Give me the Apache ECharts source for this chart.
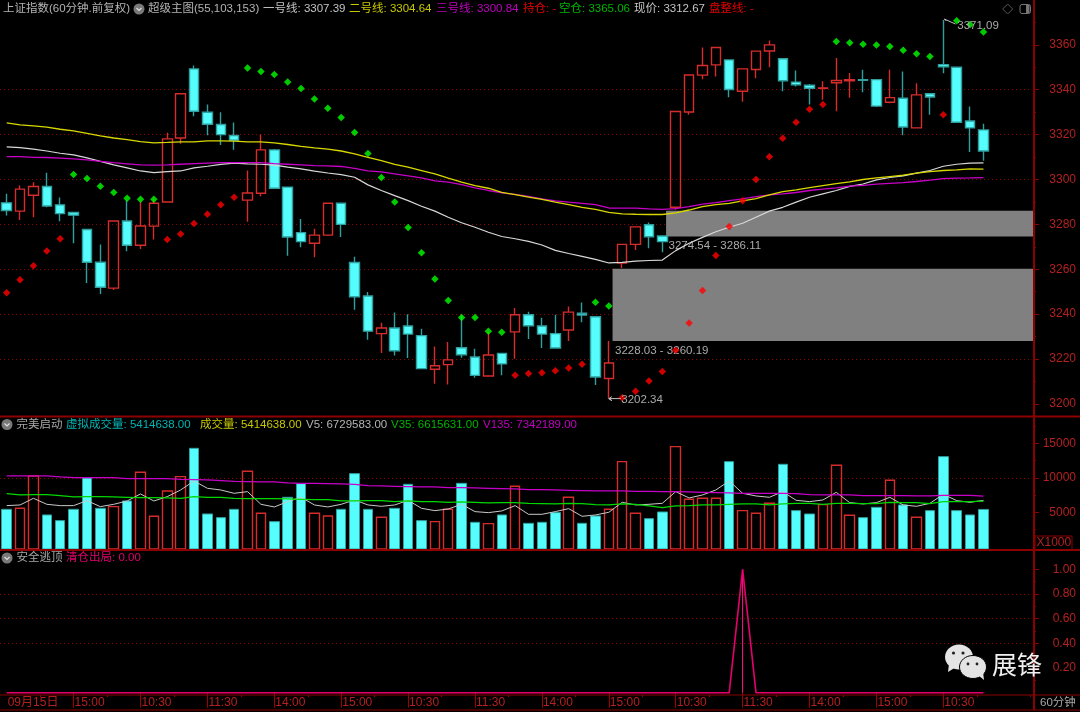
<!DOCTYPE html>
<html>
<head>
<meta charset="utf-8">
<style>
  html, body { margin: 0; padding: 0; background: #000; }
  #chart { width: 1080px; height: 712px; }
</style>
<script src="https://cdn.jsdelivr.net/npm/echarts@6/dist/echarts.min.js"></script>
</head>
<body>
<div id="chart"></div>
<script>
// tick labels, one every 5 bars
const timeTicks = ['09月15日', '15:00', '10:30', '11:30', '14:00', '15:00', '10:30', '11:30', '14:00', '15:00', '10:30', '11:30', '14:00', '15:00', '10:30']
const priceTicks = [3200, 3220, 3240, 3260, 3280, 3300, 3320, 3340, 3360]
const volumeTicks = [5000, 10000, 15000]
const exitTicks = [0.2, 0.4, 0.6, 0.8, 1]

// candles
const opens = [3289.6, 3285.9, 3293, 3296.9, 3288.7, 3285.3, 3277.7, 3263.1, 3251.6, 3281.5, 3270.7, 3279.2, 3290, 3318.5, 3349.3, 3330, 3324.5, 3319.6, 3290.8, 3293.9, 3313.2, 3296.6, 3276.3, 3271.6, 3275.2, 3289.4, 3263, 3248.1, 3231.3, 3233.8, 3234.7, 3230.4, 3215.4, 3217.5, 3225, 3220.9, 3212.4, 3222.5, 3232.1, 3239.7, 3234.7, 3231.3, 3232.9, 3240.4, 3238.8, 3211.3, 3262.8, 3271.1, 3279.8, 3274.8, 3287.6, 3330.1, 3346.5, 3351.1, 3353.3, 3339.3, 3349, 3357.3, 3353.8, 3343.4, 3342, 3340.6, 3343.1, 3344, 3344.5, 3344.5, 3334.4, 3336.2, 3323, 3338.2, 3351.2, 3350, 3326.1, 3322.1]
const closes = [3286.2, 3295.7, 3296.9, 3288.2, 3284.8, 3284.1, 3263.1, 3252, 3281.5, 3270.7, 3279.3, 3289.4, 3318.1, 3338.2, 3330.4, 3324.6, 3320, 3317.5, 3294, 3313.2, 3296.1, 3274.4, 3272.3, 3275.2, 3289.4, 3280, 3247.7, 3232.4, 3233.8, 3223.7, 3231.1, 3215.7, 3217, 3219.6, 3221.9, 3212.7, 3221.8, 3217.8, 3239.7, 3234.8, 3231.1, 3224.9, 3240.9, 3239.6, 3212, 3218.2, 3271.1, 3278.9, 3274.5, 3272.3, 3330.3, 3346.6, 3350.8, 3358.8, 3340.1, 3349.3, 3357.2, 3360, 3344, 3342.2, 3340.7, 3340.8, 3344.1, 3344.5, 3344.2, 3332.7, 3336.5, 3323.4, 3337.7, 3336.8, 3350.2, 3325.5, 3323, 3312.67]
const lows = [3284, 3282, 3283.2, 3287.6, 3281.4, 3271.6, 3253.9, 3249, 3250.8, 3268, 3269, 3273.2, 3290, 3315.9, 3328.2, 3319.7, 3315.4, 3313.3, 3281.2, 3292.5, 3296.1, 3266, 3269.8, 3265.3, 3275.2, 3274.4, 3241.9, 3228.6, 3222.7, 3221.5, 3220.4, 3215.7, 3209, 3208.6, 3220.6, 3211.6, 3212.4, 3212.7, 3220.1, 3228.9, 3224.9, 3224.9, 3228, 3236.4, 3208.4, 3202.34, 3260.6, 3268.6, 3269.3, 3267.6, 3286.5, 3328.8, 3344.7, 3345.9, 3336.7, 3334.7, 3345.1, 3350, 3339.3, 3341.4, 3333.4, 3335.5, 3330.4, 3336.4, 3338.9, 3332.3, 3334, 3319.7, 3323, 3328.8, 3347.4, 3325.5, 3312.2, 3308.3]
const highs = [3293.6, 3297.3, 3298.8, 3303, 3292, 3285.3, 3277.7, 3271, 3281.5, 3291, 3290.2, 3291.4, 3320.8, 3338.2, 3350.8, 3333.4, 3330, 3325.4, 3304, 3320, 3313.6, 3296.9, 3282.4, 3278.1, 3289.4, 3289.8, 3265.6, 3249.8, 3236.1, 3240.7, 3239.9, 3233.5, 3225.6, 3227.6, 3239.4, 3224.6, 3232, 3222.5, 3242.7, 3241, 3238.4, 3239.7, 3243.4, 3245.2, 3239, 3228, 3271.1, 3278.9, 3280.8, 3274.9, 3330.3, 3346.6, 3358.8, 3358.8, 3353.3, 3349.3, 3357.2, 3361.9, 3353.8, 3348.6, 3342.6, 3343.8, 3354.2, 3347.5, 3348.9, 3344.5, 3348.9, 3348.1, 3342.9, 3338.2, 3371.09, 3350, 3332.5, 3324.9]

// moving lines on the price panel
const line1 = [3314.5, 3314.2, 3313.5, 3312.7, 3311.7, 3311, 3309.6, 3308.1, 3306.5, 3305.2, 3303.8, 3303.1, 3303.5, 3303.8, 3305.2, 3305.9, 3306.7, 3307.3, 3307, 3306.8, 3306.4, 3305.5, 3304.7, 3303.7, 3302.9, 3302.2, 3301, 3297.6, 3295.1, 3292.8, 3290.6, 3288.1, 3285.9, 3283.2, 3280.7, 3278.7, 3276.5, 3274.6, 3273.6, 3272.4, 3270.8, 3268.4, 3267, 3265.7, 3264.4, 3262.8, 3263.1, 3263.6, 3263.9, 3264.1, 3268.3, 3271.6, 3274.2, 3276.7, 3278.7, 3280.5, 3283.2, 3285.9, 3287.6, 3289.9, 3292.1, 3293.6, 3295.1, 3296.9, 3298, 3299.8, 3300.9, 3301.6, 3302.8, 3304, 3305.9, 3306.8, 3307.3, 3307.39]
const line2 = [3325.2, 3324.3, 3323.9, 3323.3, 3322.4, 3321.7, 3320.6, 3319.4, 3318.5, 3317.8, 3316.9, 3316.3, 3316.5, 3316.8, 3316.8, 3317.2, 3317.2, 3317.1, 3316.8, 3316.8, 3316.3, 3315.6, 3314.8, 3314.1, 3313.5, 3312.7, 3311.4, 3309.9, 3308.4, 3306.7, 3305.5, 3304, 3302.5, 3300.6, 3298.8, 3297.3, 3296.1, 3294.3, 3293.3, 3292.1, 3291.1, 3289.9, 3288.8, 3287.6, 3286.7, 3285.3, 3284.7, 3284.5, 3284.4, 3284.4, 3285.1, 3286.4, 3287.9, 3288.8, 3289.4, 3290.5, 3291.5, 3293.1, 3294.6, 3295.4, 3296.4, 3297.3, 3298.2, 3298.9, 3300, 3300.7, 3301.3, 3301.9, 3302.8, 3303.5, 3304, 3304.3, 3304.7, 3304.64]
const line3 = [3310.2, 3310.2, 3309.9, 3309.8, 3309.5, 3309.2, 3308.7, 3308.1, 3307.5, 3307, 3306.5, 3306.4, 3306.5, 3306.8, 3307.1, 3307.3, 3307.5, 3307.5, 3307.5, 3307.5, 3307.1, 3306.8, 3306.5, 3306.2, 3306.1, 3305.8, 3305, 3303.8, 3303.4, 3302.5, 3301.6, 3300.7, 3299.4, 3298.8, 3297.7, 3296.3, 3295.1, 3294, 3293.4, 3292.5, 3291.4, 3290.5, 3289.9, 3289.4, 3288.8, 3287.3, 3287.2, 3287.2, 3286.9, 3286.7, 3287, 3287.9, 3289, 3289.7, 3290.6, 3291.4, 3292.4, 3293.1, 3293.6, 3294.2, 3295.1, 3295.7, 3296.3, 3297, 3297.4, 3297.9, 3298.3, 3298.6, 3299.1, 3299.7, 3300.4, 3300.6, 3300.7, 3300.84]

// stop dots as [bar, price]
const holdDots = [[0, 3249.5], [1, 3255.3], [2, 3261.5], [3, 3268.1], [4, 3273.6], [12, 3273.2], [13, 3275.7], [14, 3280.4], [15, 3284.5], [16, 3288.7], [17, 3292.1], [38, 3212.7], [39, 3213.5], [40, 3213.9], [41, 3214.8], [42, 3216], [43, 3217.6], [46, 3202.7], [47, 3205.6], [48, 3210.2], [49, 3214.4], [50, 3223.9], [51, 3236], [52, 3250.5], [53, 3266.1], [54, 3279], [55, 3290.5], [56, 3300], [57, 3310.1], [58, 3318.4], [59, 3325.5], [60, 3331.3], [61, 3333.4], [70, 3328.8]]
const emptyDots = [[5, 3302.2], [6, 3300.4], [7, 3297], [8, 3294.2], [9, 3291.6], [10, 3291.2], [11, 3291.2], [18, 3349.7], [19, 3348.1], [20, 3346.8], [21, 3343.5], [22, 3340.5], [23, 3335.9], [24, 3331.8], [25, 3327.6], [26, 3320.9], [27, 3311.6], [28, 3300.9], [29, 3290], [30, 3278.6], [31, 3267.3], [32, 3255.7], [33, 3246.1], [34, 3238.5], [35, 3238.5], [36, 3232.4], [37, 3231.9], [44, 3245.3], [45, 3243.6], [62, 3361.5], [63, 3361], [64, 3360.3], [65, 3359.9], [66, 3359.3], [67, 3357.6], [68, 3356], [69, 3354.8], [71, 3370.8], [72, 3369.1], [73, 3365.7]]

// grey zones as [first bar, low, high]
const zones = [[45, 3228.03, 3260.19], [49, 3274.54, 3286.11]]

// volume panel, in thousands
const volumes = [5435, 5580, 10265, 4614, 3792, 5435, 9976, 5580, 5821, 6643, 10797, 4420, 8092, 10169, 14275, 4758, 4227, 5435, 10942, 4855, 3647, 7174, 9155, 4855, 4469, 5435, 10604, 5435, 4275, 5580, 9058, 3792, 3647, 5435, 9203, 3551, 3357, 4614, 8768, 3406, 3551, 4952, 7174, 3406, 4469, 5435, 12343, 4855, 4082, 5048, 14517, 6884, 7029, 7029, 12343, 5242, 4855, 6304, 11957, 5242, 4758, 6111, 11812, 4565, 4227, 5725, 9638, 6063, 4275, 5242, 13068, 5242, 4614, 5415]
const v5 = [5966, 6063, 7029, 6159, 5966, 5966, 6691, 5821, 6159, 6642, 7657, 6642, 7270, 8236, 9540, 8478, 8236, 7753, 7995, 6159, 5773, 6546, 7174, 6063, 5773, 6159, 6787, 6063, 5869, 6063, 6739, 5580, 5242, 5483, 6159, 5097, 4952, 5193, 5966, 4710, 4710, 5097, 5531, 4420, 4614, 5000, 6449, 6063, 6159, 6304, 7995, 7077, 7512, 8236, 9540, 7753, 7367, 7174, 7995, 6739, 6546, 6787, 7898, 6401, 6208, 6401, 7174, 6063, 5869, 6304, 7608, 6691, 6449, 6729]
const v35 = [7705, 7512, 7560, 7560, 7415, 7222, 7270, 7270, 7222, 7174, 7125, 7125, 7077, 7029, 7270, 7174, 7174, 7029, 6980, 6980, 6980, 6932, 6884, 6835, 6835, 6642, 6642, 6691, 6691, 6546, 6642, 6546, 6546, 6449, 6497, 6449, 6352, 6401, 6401, 6304, 6256, 6208, 6304, 6256, 6111, 6063, 6208, 6159, 5918, 5676, 5918, 5966, 6063, 6063, 6159, 6208, 6208, 6063, 6208, 6304, 6304, 6159, 6304, 6304, 6256, 6256, 6449, 6401, 6401, 6256, 6546, 6546, 6546, 6615]
const v135 = [10266, 10266, 10266, 10266, 10121, 10024, 10024, 10024, 10024, 9879, 9879, 9879, 9879, 9783, 9734, 9686, 9589, 9493, 9444, 9396, 9396, 9251, 9203, 9203, 9155, 9106, 9058, 8865, 8816, 8768, 8720, 8671, 8671, 8575, 8575, 8527, 8478, 8430, 8382, 8285, 8285, 8237, 8188, 8140, 8092, 8092, 8092, 8043, 8043, 7995, 7995, 7947, 7899, 7850, 7802, 7754, 7754, 7754, 7754, 7705, 7560, 7512, 7512, 7512, 7415, 7415, 7415, 7415, 7367, 7367, 7464, 7464, 7464, 7342]
const volumeFloor = -320

// exit signal panel
const exitSignal = [0, 0, 0, 0, 0, 0, 0, 0, 0, 0, 0, 0, 0, 0, 0, 0, 0, 0, 0, 0, 0, 0, 0, 0, 0, 0, 0, 0, 0, 0, 0, 0, 0, 0, 0, 0, 0, 0, 0, 0, 0, 0, 0, 0, 0, 0, 0, 0, 0, 0, 0, 0, 0, 0, 0, 1, 0, 0, 0, 0, 0, 0, 0, 0, 0, 0, 0, 0, 0, 0, 0, 0, 0, 0]

// header rows: [x, y, text, colour]
const headerTexts = [
  [3, 9, '上证指数(60分钟.前复权)', '#b4b4b4'],
  [148, 9, '超级主图(55,103,153)', '#b4b4b4'],
  [263, 9, '一号线: 3307.39', '#c4c4c4'],
  [349, 9, '二号线: 3304.64', '#c8c800'],
  [436, 9, '三号线: 3300.84', '#c000c0'],
  [523, 9, '持仓: -', '#e00000'],
  [559, 9, '空仓: 3365.06', '#00b400'],
  [634, 9, '现价: 3312.67', '#c4c4c4'],
  [709, 9, '盘整线: -', '#e00000'],
  [16.5, 424.5, '完美启动', '#a8a8a8'],
  [66, 424.5, '虚拟成交量: 5414638.00', '#00b4b4'],
  [200, 424.5, '成交量: 5414638.00', '#c8c800'],
  [306, 424.5, 'V5: 6729583.00', '#b4b4b4'],
  [391, 424.5, 'V35: 6615631.00', '#00b400'],
  [483, 424.5, 'V135: 7342189.00', '#c000c0'],
  [16.5, 558, '安全逃顶', '#a8a8a8'],
  [66, 558, '清仓出局: 0.00', '#e0006e'],
  [1040, 703, '60分钟', '#a8a8a8']
]
const headerCircles = [[139, 9], [7, 424.5], [7, 558]]

const FONT = '"Liberation Sans", "Noto Sans CJK SC", sans-serif'
const RED_AXIS = '#b42020'
const FRAME = '#8c0000'
const barCount = opens.length
// 3 empty slots on the right of the last bar
const categories = []
for (let i = 0; i < barCount + 3; i += 1) {
  categories.push(i % 5 === 0 && timeTicks[i / 5] ? timeTicks[i / 5] : '')
}

const candleData = opens.map((o, i) => [o, closes[i], lows[i], highs[i]])
const volumeUp = volumes.map((v, i) => (closes[i] >= opens[i] ? [volumeFloor, v, volumeFloor, v] : '-'))
const volumeDown = volumes.map((v, i) => (closes[i] < opens[i] ? [volumeFloor, v, volumeFloor, v] : '-'))

function frameLine(x1, y1, x2, y2, width) {
  return {
    type: 'line',
    z: 60,
    shape: { x1, y1, x2, y2 },
    style: { stroke: FRAME, lineWidth: width },
  }
}

function headerGraphics() {
  const out = [
    frameLine(0, 416.5, 1034, 416.5, 2),
    frameLine(0, 550, 1034, 550, 2),
    frameLine(0, 695, 1080, 695, 1),
    frameLine(0, 710, 1080, 710, 1),
    frameLine(1034, 0, 1034, 710, 2),
    frameLine(1034, 416.5, 1080, 416.5, 2),
    frameLine(1034, 550, 1080, 550, 2),
    {
      type: 'rect',
      z: 60,
      shape: { x: 1035, y: 536, width: 37, height: 13.5 },
      style: { fill: 'transparent', stroke: FRAME, lineWidth: 1 },
    },
    {
      type: 'text',
      z: 61,
      x: 1036.5,
      y: 543,
      style: { text: 'X1000', fill: RED_AXIS, font: '12px ' + FONT, verticalAlign: 'middle' },
    },
    // window icons
    {
      type: 'polygon',
      z: 60,
      shape: { points: [[1007.7, 4], [1012.7, 9], [1007.7, 14], [1002.7, 9]] },
      style: { fill: 'transparent', stroke: '#555', lineWidth: 1 },
    },
    {
      type: 'rect',
      z: 60,
      shape: { x: 1020, y: 4.5, width: 10.5, height: 9, r: 2 },
      style: { fill: 'transparent', stroke: '#777', lineWidth: 1 },
    },
    {
      type: 'rect',
      z: 60,
      shape: { x: 1026, y: 5, width: 3.5, height: 8 },
      style: { fill: '#777' },
    },
  ]
  headerCircles.forEach(([x, y]) => {
    out.push({ type: 'circle', z: 60, shape: { cx: x, cy: y, r: 5.5 }, style: { fill: '#787878' } })
    out.push({
      type: 'polyline',
      z: 61,
      shape: { points: [[x - 2.5, y - 1], [x, y + 1.5], [x + 2.5, y - 1]] },
      style: { fill: 'none', stroke: '#e0e0e0', lineWidth: 1.2 },
    })
  })
  headerTexts.forEach(([x, y, text, fill]) => {
    out.push({
      type: 'text',
      z: 60,
      x,
      y,
      style: { text, fill, font: '11.5px ' + FONT, verticalAlign: 'middle' },
    })
  })
  // watermark
  out.push(
    { type: 'ellipse', z: 70, shape: { cx: 959, cy: 657, rx: 14, ry: 12.5 }, style: { fill: '#e4e4e4' } },
    { type: 'polygon', z: 70, shape: { points: [[949, 664], [948, 672], [956, 667]] }, style: { fill: '#e4e4e4' } },
    { type: 'circle', z: 71, shape: { cx: 953.5, cy: 653, r: 1.6 }, style: { fill: '#222' } },
    { type: 'circle', z: 71, shape: { cx: 963, cy: 653, r: 1.6 }, style: { fill: '#222' } },
    { type: 'ellipse', z: 72, shape: { cx: 973, cy: 667, rx: 13.5, ry: 11.5 }, style: { fill: '#e4e4e4', stroke: '#000', lineWidth: 1 } },
    { type: 'polygon', z: 72, shape: { points: [[978, 675], [984, 680], [983, 672]] }, style: { fill: '#e4e4e4' } },
    { type: 'circle', z: 73, shape: { cx: 968, cy: 664, r: 1.4 }, style: { fill: '#222' } },
    { type: 'circle', z: 73, shape: { cx: 977, cy: 664, r: 1.4 }, style: { fill: '#222' } },
    {
      type: 'text',
      z: 70,
      x: 992,
      y: 664,
      style: { text: '展锋', fill: '#f0f0f0', font: '25px "Noto Sans CJK SC"', verticalAlign: 'middle' },
    },
  )
  return out
}

function renderZone(params, api) {
  const left = api.coord([api.value(0), api.value(2)])
  const bottom = api.coord([api.value(0), api.value(1)])
  const band = api.size([1, 0])[0]
  const x = left[0] + band * 0.28
  const label = api.value(1).toFixed(2) + ' - ' + api.value(2).toFixed(2)
  return {
    type: 'group',
    children: [
      {
        type: 'rect',
        shape: { x, y: left[1], width: 1034 - x, height: bottom[1] - left[1] },
        style: { fill: '#808080' },
      },
      {
        type: 'text',
        x: x + 2.5,
        y: bottom[1] + 9.5,
        style: { text: label, fill: '#aaaaaa', font: '11.5px ' + FONT, verticalAlign: 'middle' },
      },
    ],
  }
}

// arrows to the highest and lowest price
function renderExtreme(params, api) {
  const p = api.coord([api.value(0), api.value(1)])
  const isHigh = params.dataIndex === 0
  const points = isHigh
    ? [[p[0] + 3, p[1] + 1], [p[0] + 1, p[1] - 1], [p[0] + 12, p[1] + 4]]
    : [[p[0] + 3, p[1] - 2], [p[0], p[1]], [p[0] + 3, p[1] + 2], [p[0], p[1]], [p[0] + 12, p[1]]]
  return {
    type: 'group',
    children: [
      { type: 'polyline', shape: { points }, style: { fill: 'none', stroke: '#c0c0c0', lineWidth: 1 } },
      {
        type: 'text',
        x: p[0] + (isHigh ? 14 : 12.5),
        y: p[1] + (isHigh ? 5.5 : 1),
        style: { text: api.value(1).toFixed(2), fill: '#aaaaaa', font: '11.5px ' + FONT, verticalAlign: 'middle' },
      },
    ],
  }
}

function lineSeries(name, data, color, xAxisIndex, yAxisIndex, z, width) {
  return {
    name,
    type: 'line',
    data,
    xAxisIndex,
    yAxisIndex,
    z,
    showSymbol: false,
    silent: true,
    clip: false,
    lineStyle: { color, width },
  }
}

function dotSeries(name, data, color) {
  return {
    name,
    type: 'scatter',
    data,
    xAxisIndex: 0,
    yAxisIndex: 0,
    z: 12,
    symbol: 'diamond',
    symbolSize: 7.5,
    clip: false,
    itemStyle: { color },
  }
}

function valueAxis(gridIndex, min, max, interval, ticks, formatter) {
  return {
    type: 'value',
    gridIndex,
    position: 'right',
    offset: 3.7,
    min,
    max,
    interval,
    axisLine: { show: false },
    axisTick: { show: true, length: 5, customValues: ticks, lineStyle: { color: FRAME } },
    minorTick: { show: true, splitNumber: 2, length: 2, lineStyle: { color: FRAME } },
    axisLabel: {
      customValues: ticks,
      formatter,
      color: RED_AXIS,
      align: 'right',
      margin: 42,
      fontFamily: FONT,
      fontSize: 12,
    },
    splitLine: {
      show: true,
      showMinLine: false,
      showMaxLine: false,
      lineStyle: { color: '#8c0000', type: [1, 3], width: 1 },
    },
  }
}

const hiddenX = (gridIndex) => ({
  type: 'category',
  gridIndex,
  data: categories,
  boundaryGap: true,
  axisLine: { show: false },
  axisTick: { show: false },
  axisLabel: { show: false },
  splitLine: { show: false },
})

const chart = echarts.init(document.getElementById('chart'))
chart.setOption({
  backgroundColor: '#000',
  animation: false,
  tooltip: { show: false },
  graphic: headerGraphics(),
  grid: [
    { left: -0.7, width: 1031, top: -0.67, height: 449.4 },
    { left: -0.7, width: 1031, top: 408.8, height: 138 },
    { left: -0.7, width: 1031, top: 569.3, height: 123.4 },
  ],
  xAxis: [
    hiddenX(0),
    hiddenX(1),
    {
      type: 'category',
      gridIndex: 2,
      data: categories,
      boundaryGap: true,
      offset: 2.3,
      axisLine: { show: false },
      axisTick: {
        show: true,
        alignWithLabel: true,
        length: 15,
        interval: (i) => i > 0 && i % 5 === 0 && i <= 70,
        lineStyle: { color: '#a00000' },
      },
      axisLabel: {
        interval: 0,
        align: 'left',
        margin: 2,
        padding: [0, 0, 0, 1],
        color: RED_AXIS,
        fontFamily: FONT,
        fontSize: 12,
      },
      splitLine: { show: false },
    },
    // short marks half way between the time labels
    {
      type: 'category',
      gridIndex: 2,
      data: categories,
      boundaryGap: true,
      position: 'bottom',
      offset: 2.3,
      axisLine: { show: false },
      axisTick: {
        show: true,
        alignWithLabel: false,
        length: 2,
        interval: (i) => i % 5 === 3,
        lineStyle: { color: '#a00000' },
      },
      axisLabel: { show: false },
      splitLine: { show: false },
    },
  ],
  yAxis: [
    valueAxis(0, 3180, 3380, 20, priceTicks, (v) => String(v)),
    valueAxis(1, 0, 20000, 5000, volumeTicks, (v) => String(v)),
    valueAxis(2, 0, 1, 0.2, exitTicks, (v) => v.toFixed(2)),
  ],
  series: [
    {
      name: 'zones',
      type: 'custom',
      data: zones,
      xAxisIndex: 0,
      yAxisIndex: 0,
      z: 1,
      silent: true,
      clip: false,
      encode: { x: 0, y: [1, 2] },
      renderItem: renderZone,
    },
    {
      name: '上证指数',
      type: 'candlestick',
      data: candleData,
      xAxisIndex: 0,
      yAxisIndex: 0,
      z: 5,
      barWidth: 10,
      clip: false,
      itemStyle: {
        color: 'transparent',
        color0: '#55fdfd',
        borderColor: '#d62c2c',
        borderColor0: '#2f9f9f',
        borderWidth: 1.4,
      },
    },
    lineSeries('一号线', line1, '#d8d8d8', 0, 0, 8, 1.2),
    lineSeries('三号线', line3, '#c800c8', 0, 0, 8, 1.3),
    lineSeries('二号线', line2, '#d8d800', 0, 0, 9, 1.3),
    dotSeries('持仓', holdDots, '#ff0000'),
    dotSeries('空仓', emptyDots, '#00ff00'),
    {
      name: 'extremes',
      type: 'custom',
      data: [[70, 3371.09], [45, 3202.34]],
      xAxisIndex: 0,
      yAxisIndex: 0,
      z: 13,
      silent: true,
      clip: false,
      encode: { x: 0, y: 1 },
      renderItem: renderExtreme,
    },
    {
      name: '成交量涨',
      type: 'candlestick',
      data: volumeUp,
      xAxisIndex: 1,
      yAxisIndex: 1,
      z: 5,
      barWidth: 10,
      clip: false,
      itemStyle: { color: 'transparent', borderColor: '#d62c2c', borderWidth: 1.4 },
    },
    {
      name: '成交量跌',
      type: 'candlestick',
      data: volumeDown,
      xAxisIndex: 1,
      yAxisIndex: 1,
      z: 5,
      barWidth: 10,
      clip: false,
      itemStyle: { color: '#55fdfd', borderColor: '#2f9f9f', borderWidth: 1 },
    },
    lineSeries('V5', v5, '#c8c8c8', 1, 1, 8, 1),
    lineSeries('V135', v135, '#c800c8', 1, 1, 8, 1.3),
    lineSeries('V35', v35, '#00d800', 1, 1, 9, 1.2),
    lineSeries('清仓出局', exitSignal, '#e6006e', 2, 2, 8, 1.6),
    {
      name: '清仓信号',
      type: 'bar',
      data: exitSignal,
      xAxisIndex: 2,
      yAxisIndex: 2,
      z: 8,
      barWidth: 1,
      itemStyle: { color: '#ff1a85' },
    },
  ],
})
</script>
</body>
</html>
